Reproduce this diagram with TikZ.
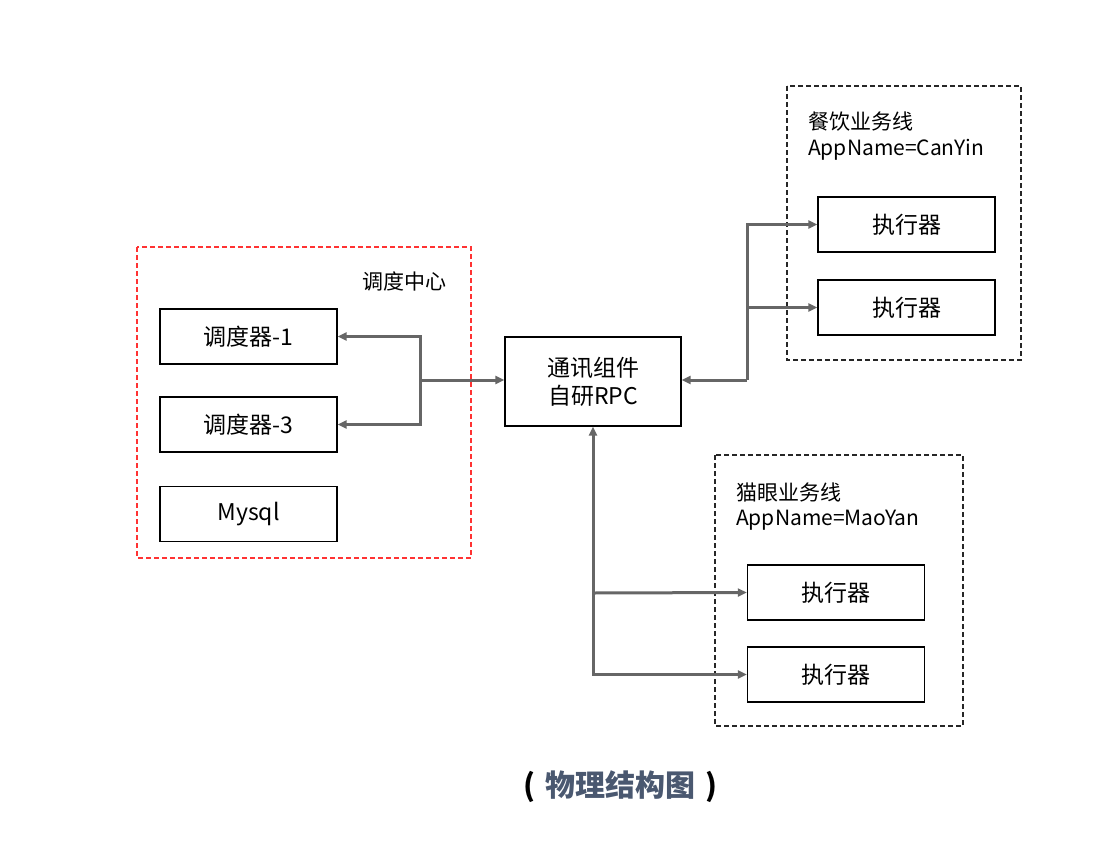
\documentclass[tikz,border=0pt]{standalone}
\usepackage{fontspec}
\setmainfont{Noto Sans CJK SC}
\usetikzlibrary{arrows.meta}
\begin{document}
\begin{tikzpicture}[x=1pt,y=-1pt,
  box/.style={draw=black,line width=1.4pt,minimum width=177pt,minimum height=55pt,inner sep=0pt,font=\fontsize{23}{26}\selectfont},
  grp/.style={draw=#1,dashed,line width=1.3pt,dash pattern=on 5pt off 3pt},
  conn/.style={draw=black!60,line width=3pt},
  arr/.style={conn,-{Triangle[length=9pt,width=8pt]}},
  lbl/.style={font=\fontsize{21}{28}\selectfont,inner sep=0pt,anchor=west}
]
\useasboundingbox (0,0) rectangle (1096,868);
% groups
\draw[grp=red!80] (137,247) rectangle (471,558);
\draw[grp=black!85] (787,86) rectangle (1021,360);
\draw[grp=black!85] (715,455) rectangle (963,726);
\node[lbl] (lbc) at (362,281) {调度中心};
\node[lbl] (lcy1) at (808,122) {餐饮业务线};
\node[lbl] (lcy2) at (808,150) {AppName=CanYin};
\node[lbl] (lmy1) at (736,492) {猫眼业务线};
\node[lbl] (lmy2) at (736,520) {AppName=MaoYan};
% boxes
\node[box] (s1) at (248.5,336.5) {调度器-1};
\node[box] (s3) at (248.5,424.5) {调度器-3};
\node[box] (my) at (248.5,514) {Mysql};
\node[box,minimum width=176pt,minimum height=89pt,align=center,font=\fontsize{23}{28}\selectfont] (rpc) at (593,381.5) {通讯组件\\自研RPC};
\node[box] (e1) at (906.5,224.5) {执行器};
\node[box] (e2) at (906.5,307.5) {执行器};
\node[box] (e3) at (836,592.5) {执行器};
\node[box] (e4) at (836,674.5) {执行器};
% connectors
\coordinate (jl) at (420,380);
\coordinate (jr) at (747,380);
\draw[arr] (jl) -- (rpc.west |- jl);
\draw[arr] (jl) |- (s1.east);
\draw[arr] (jl) |- (s3.east);
\draw[arr] (jr) -- (rpc.east |- jr);
\draw[arr] (jr) |- (e1.west);
\draw[arr] (jr) |- (e2.west);
\coordinate (jb) at (593,593);
\draw[arr] (jb) -- (rpc.south);
\draw[arr] (jb) -- (e3.west);
\draw[arr] (jb) |- (e4.west);
% caption
\node[font=\fontsize{30}{34}\selectfont\bfseries] (cap) at (620,787) {(\hspace{10pt}{\color[HTML]{4A5870}物理结构图}\hspace{10pt})};
\end{tikzpicture}
\end{document}
